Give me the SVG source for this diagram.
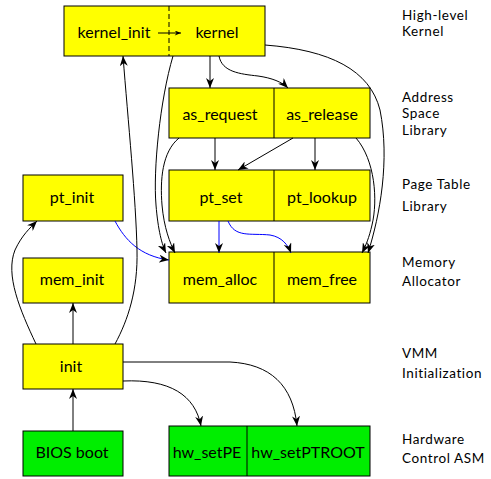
<svg xmlns="http://www.w3.org/2000/svg" width="491" height="479" viewBox="0 0 491 479">
<style>
.box{stroke:#000;stroke-width:1}
.y{fill:#ffff00}
.g{fill:#00ee00}
.t{font-family:Lato,"Open Sans",sans-serif;font-size:16px;fill:#000;text-anchor:middle}
.lbl{font-family:Lato,"Open Sans",sans-serif;font-size:13.5px;letter-spacing:0.6px;fill:#000}
.e{fill:none;stroke:#000;stroke-width:1}
.b{fill:none;stroke:#0000ff;stroke-width:1}
</style>
<defs>
<marker id="a" markerUnits="userSpaceOnUse" viewBox="0 0 10 8" markerWidth="10" markerHeight="8" refX="10" refY="4" orient="auto"><path d="M0,0 L10,4 L0,8 L3,4 z" fill="#000"/></marker>
<marker id="s" markerUnits="userSpaceOnUse" viewBox="0 0 10 8" markerWidth="7" markerHeight="5" refX="10" refY="4" orient="auto"><path d="M0,0 L10,4 L0,8 L3,4 z" fill="#000"/></marker>
</defs>
<g id="nodes">
<g id="kernel_group"><rect class="box y" x="64" y="6" width="201" height="50"/><line x1="169" y1="6" x2="169" y2="56" stroke="#000" stroke-dasharray="5,3"/></g>
<g id="kernel_init"><text class="t" x="114" y="38">kernel_init</text></g>
<g id="kernel"><text class="t" x="217" y="38">kernel</text></g>
<g id="as_group"><rect class="box y" x="169" y="88" width="201" height="50"/><line x1="274" y1="88" x2="274" y2="138" stroke="#000"/></g>
<g id="as_request"><text class="t" x="220" y="120">as_request</text></g>
<g id="as_release"><text class="t" x="322" y="120">as_release</text></g>
<g id="pt_group"><rect class="box y" x="169" y="170" width="201" height="51"/><line x1="274" y1="170" x2="274" y2="221" stroke="#000"/></g>
<g id="pt_set"><text class="t" x="221" y="203">pt_set</text></g>
<g id="pt_lookup"><text class="t" x="322" y="203">pt_lookup</text></g>
<g id="mem_group"><rect class="box y" x="169" y="252" width="201" height="51"/><line x1="274" y1="252" x2="274" y2="303" stroke="#000"/></g>
<g id="mem_alloc"><text class="t" x="220" y="285">mem_alloc</text></g>
<g id="mem_free"><text class="t" x="322" y="285">mem_free</text></g>
<g id="pt_init"><rect class="box y" x="23" y="175" width="100" height="46"/><text class="t" x="72" y="203">pt_init</text></g>
<g id="mem_init"><rect class="box y" x="23" y="258" width="100" height="45"/><text class="t" x="72" y="285">mem_init</text></g>
<g id="init"><rect class="box y" x="23" y="344" width="100" height="45"/><text class="t" x="71" y="372">init</text></g>
<g id="bios"><rect class="box g" x="23" y="431" width="100" height="45"/><text class="t" x="72" y="458">BIOS boot</text></g>
<g id="hw_group"><rect class="box g" x="169" y="426" width="201" height="50"/><line x1="247" y1="426" x2="247" y2="476" stroke="#000"/></g>
<g id="hw_setPE"><text class="t" x="207" y="458">hw_setPE</text></g>
<g id="hw_setPTROOT"><text class="t" x="308" y="458">hw_setPTROOT</text></g>
</g>
<g id="layers">
<text class="lbl" x="402" y="20">High-level</text><text class="lbl" x="402" y="36">Kernel</text>
<text class="lbl" x="402" y="101.5">Address</text><text class="lbl" x="402" y="118">Space</text><text class="lbl" x="402" y="134.5">Library</text>
<text class="lbl" x="402" y="189">Page Table</text><text class="lbl" x="402" y="211">Library</text>
<text class="lbl" x="402" y="267">Memory</text><text class="lbl" x="402" y="286">Allocator</text>
<text class="lbl" x="402" y="358">VMM</text><text class="lbl" x="402" y="378">Initialization</text>
<text class="lbl" x="402" y="444">Hardware</text><text class="lbl" x="402" y="463">Control ASM</text>
</g>
<g id="connectors">
<path class="e" marker-end="url(#s)" d="M158,33 L181,33"/>
<path class="e" marker-end="url(#a)" d="M210,56 L210,88"/>
<path class="e" marker-end="url(#a)" d="M219,56 C222,72 240,74 258,76 C272,78 282,82 288,88"/>
<path class="e" marker-end="url(#a)" d="M173,56 C160,100 153,170 156,205 C158,230 162,245 166,253"/>
<path class="e" marker-end="url(#a)" d="M179,138 C162,152 160,180 162,205 C164,228 170,243 175,253"/>
<path class="e" marker-end="url(#a)" d="M215,138 L215,170"/>
<path class="e" marker-end="url(#a)" d="M293,138 L238,170"/>
<path class="e" marker-end="url(#a)" d="M315,138 L315,170"/>
<path class="e" marker-end="url(#a)" d="M356,138 C375,160 378,200 372,225 C369,238 366,245 362,253"/>
<path class="e" marker-end="url(#a)" d="M265,45 C330,50 370,70 380,110 C390,160 380,215 368,253"/>
<path class="b" marker-end="url(#a)" d="M219,221 L219,253"/>
<path class="b" marker-end="url(#a)" d="M228,221 C235,238 250,233 270,235 C282,237 288,245 291,253"/>
<path class="b" marker-end="url(#a)" d="M115,221 C125,240 140,256 169,260"/>
<path class="e" marker-end="url(#a)" d="M36,344 C20,310 5,275 15,250 C22,235 30,228 37,221"/>
<path class="e" marker-end="url(#a)" d="M73,344 L73,303"/>
<path class="e" marker-end="url(#a)" d="M115,344 C128,320 138,290 137,250 C136,200 128,120 123,56"/>
<path class="e" marker-end="url(#a)" d="M73,431 L73,389"/>
<path class="e" marker-end="url(#a)" d="M123,381 C170,379 195,395 201,426"/>
<path class="e" marker-end="url(#a)" d="M123,362 L230,362 C270,364 293,385 297,426"/>
</g>
</svg>
